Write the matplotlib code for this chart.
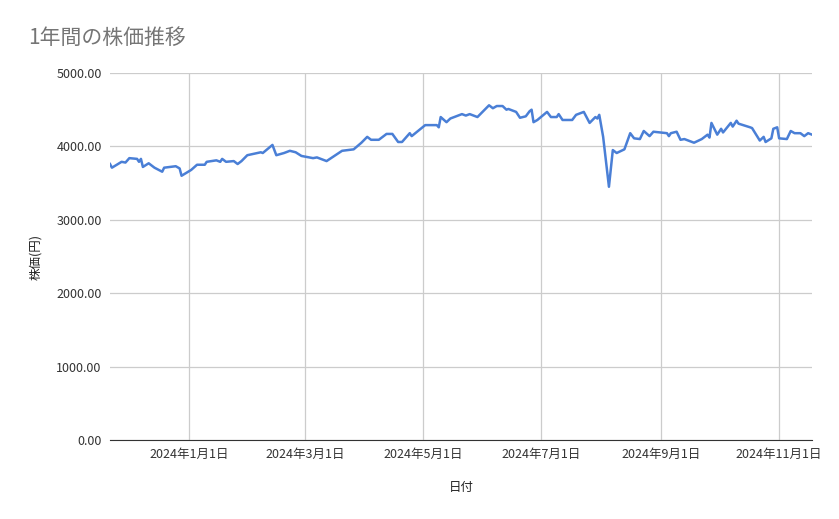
import numpy as np
import pandas as pd
import matplotlib
matplotlib.use("Agg")
import matplotlib.pyplot as plt
import matplotlib.dates as mdates
from matplotlib.ticker import FormatStrFormatter

plt.rcParams['font.family'] = ['Noto Sans CJK JP', 'DejaVu Sans']

# 日付と株価
dates = ["2023-11-21", "2023-11-22", "2023-11-27", "2023-11-29", "2023-12-01", "2023-12-05",
         "2023-12-06", "2023-12-07", "2023-12-08", "2023-12-11", "2023-12-14", "2023-12-18",
         "2023-12-19", "2023-12-25", "2023-12-27", "2023-12-28", "2024-01-02", "2024-01-05",
         "2024-01-09", "2024-01-10", "2024-01-15", "2024-01-17", "2024-01-18", "2024-01-20",
         "2024-01-24", "2024-01-26", "2024-01-28", "2024-01-31", "2024-02-07", "2024-02-08",
         "2024-02-13", "2024-02-15", "2024-02-19", "2024-02-22", "2024-02-25", "2024-02-28",
         "2024-03-05", "2024-03-07", "2024-03-12", "2024-03-16", "2024-03-20", "2024-03-26",
         "2024-03-30", "2024-04-02", "2024-04-04", "2024-04-08", "2024-04-09", "2024-04-12",
         "2024-04-15", "2024-04-18", "2024-04-20", "2024-04-24", "2024-04-25", "2024-05-02",
         "2024-05-08", "2024-05-09", "2024-05-10", "2024-05-13", "2024-05-15", "2024-05-17",
         "2024-05-21", "2024-05-23", "2024-05-25", "2024-05-29", "2024-06-04", "2024-06-06",
         "2024-06-08", "2024-06-11", "2024-06-13", "2024-06-14", "2024-06-18", "2024-06-20",
         "2024-06-23", "2024-06-25", "2024-06-26", "2024-06-27", "2024-06-29", "2024-07-04",
         "2024-07-06", "2024-07-09", "2024-07-10", "2024-07-12", "2024-07-17", "2024-07-19",
         "2024-07-23", "2024-07-26", "2024-07-29", "2024-07-30", "2024-07-31", "2024-08-02",
         "2024-08-05", "2024-08-07", "2024-08-09", "2024-08-13", "2024-08-16", "2024-08-18",
         "2024-08-21", "2024-08-23", "2024-08-26", "2024-08-28", "2024-09-04", "2024-09-05",
         "2024-09-06", "2024-09-09", "2024-09-11", "2024-09-13", "2024-09-18", "2024-09-22",
         "2024-09-25", "2024-09-26", "2024-09-27", "2024-09-30", "2024-10-02", "2024-10-03",
         "2024-10-07", "2024-10-08", "2024-10-10", "2024-10-11", "2024-10-17", "2024-10-18",
         "2024-10-22", "2024-10-24", "2024-10-25", "2024-10-28", "2024-10-29", "2024-10-31",
         "2024-11-01", "2024-11-05", "2024-11-07", "2024-11-09", "2024-11-12", "2024-11-14",
         "2024-11-16", "2024-11-18"]
prices = [3760, 3710, 3790, 3780, 3840, 3830,
          3790, 3830, 3720, 3770, 3710, 3655,
          3710, 3730, 3700, 3600, 3680, 3750,
          3750, 3790, 3810, 3790, 3830, 3790,
          3800, 3760, 3800, 3880, 3920, 3910,
          4020, 3880, 3910, 3940, 3920, 3870,
          3840, 3850, 3800, 3870, 3940, 3960,
          4050, 4130, 4090, 4090, 4110, 4170,
          4170, 4060, 4060, 4180, 4140, 4290,
          4290, 4260, 4400, 4330, 4380, 4400,
          4440, 4420, 4440, 4400, 4560, 4520,
          4550, 4550, 4500, 4510, 4470, 4390,
          4410, 4480, 4500, 4330, 4360, 4470,
          4400, 4400, 4440, 4360, 4360, 4430,
          4470, 4320, 4400, 4380, 4430, 4130,
          3450, 3950, 3910, 3960, 4180, 4110,
          4100, 4210, 4140, 4200, 4180, 4140,
          4180, 4200, 4090, 4100, 4050, 4100,
          4160, 4120, 4320, 4160, 4240, 4190,
          4320, 4270, 4350, 4310, 4260, 4250,
          4080, 4130, 4060, 4110, 4240, 4260,
          4110, 4100, 4210, 4180, 4180, 4140,
          4180, 4160]

x = pd.to_datetime(dates)
tick_dates = pd.to_datetime(["2024-01-01", "2024-03-01", "2024-05-01",
                             "2024-07-01", "2024-09-01", "2024-11-01"])
tick_labels = ["2024年1月1日", "2024年3月1日", "2024年5月1日",
               "2024年7月1日", "2024年9月1日", "2024年11月1日"]

fig = plt.figure(figsize=(8.39, 5.19), dpi=100)
ax = fig.add_axes([110/839, 1 - 440/519, 702/839, 367/519])
ax.plot(x, prices, color="#4a7fd6", linewidth=1.8)

ax.set_xlim(x[0], x[-1])
ax.set_ylim(0, 5000)
ax.set_yticks(np.arange(0, 5001, 1000))
ax.yaxis.set_major_formatter(FormatStrFormatter("%.2f"))
ax.set_xticks(tick_dates)
ax.set_xticklabels(tick_labels)
ax.grid(True, color="#cccccc", linewidth=0.9)
ax.set_axisbelow(True)
for s in ["top", "right", "left"]:
    ax.spines[s].set_visible(False)
ax.spines["bottom"].set_color("#333333")
ax.tick_params(length=0, labelsize=9, colors="#333333", pad=6)

ax.set_xlabel("日付", fontsize=9, color="#222222", labelpad=14)
ax.set_ylabel("株価(円)", fontsize=9, color="#222222", labelpad=10)
fig.text(28/839, 1 - 38/519, "1年間の株価推移", fontsize=15, color="#757575", va="center")

fig.savefig("out.png")
